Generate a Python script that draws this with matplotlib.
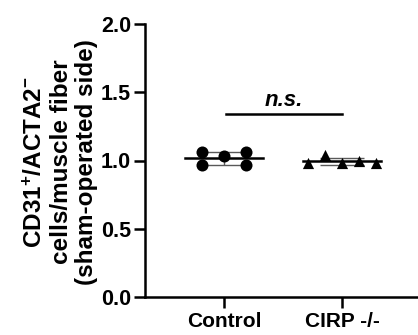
import matplotlib
matplotlib.use("Agg")
import matplotlib.pyplot as plt
import numpy as np

plt.rcParams["font.family"] = ["Liberation Sans", "DejaVu Sans"]
plt.rcParams["font.weight"] = "bold"
plt.rcParams["mathtext.fontset"] = "custom"
plt.rcParams["mathtext.rm"] = "Liberation Sans:bold"
plt.rcParams["mathtext.bf"] = "Liberation Sans:bold"
plt.rcParams["mathtext.default"] = "rm"

groups = ["Control", "CIRP -/-"]
control_vals = [1.06, 0.967, 1.03, 1.06, 0.967]
control_jitter = [-0.19, -0.19, 0.0, 0.19, 0.19]
cirp_vals = [0.98, 1.04, 0.98, 0.995, 0.98]
cirp_jitter = [-0.29, -0.14, 0.0, 0.14, 0.29]
yticks = [0.0, 0.5, 1.0, 1.5, 2.0]

W, H = 418, 335
fig = plt.figure(figsize=(W / 100, H / 100), dpi=100)
ax = fig.add_axes([145 / W, 1 - 297 / H, 1 - 145 / W, (297 - 24) / H])

lw = 1.8
for i, (vals, jit, mk) in enumerate([(control_vals, control_jitter, "o"),
                                      (cirp_vals, cirp_jitter, "^")]):
    vals = np.array(vals)
    m = vals.mean()
    sd = vals.std(ddof=1)
    # error bar (SD), grey behind the points
    ax.errorbar(i, m, yerr=sd, fmt="none", ecolor="0.35", elinewidth=1.0,
                capsize=16, capthick=1.0, zorder=2)
    ax.scatter(i + np.array(jit), vals, marker=mk, s=75 if mk == "o" else 65,
               color="black", zorder=3, linewidths=0)
    ax.plot([i - 0.33, i + 0.33], [m, m], color="black", lw=lw, zorder=4)

# significance bracket
ax.plot([0.02, 1.0], [1.34, 1.34], color="black", lw=lw, clip_on=False)
ax.text(0.51, 1.365, "n.s.", ha="center", va="bottom", fontsize=16,
        fontstyle="italic", fontweight="bold")

ax.set_xlim(-0.669, 1.644)
ax.set_ylim(0, 2.0)
ax.set_yticks(yticks)
ax.set_yticklabels([f"{t:.1f}" for t in yticks], fontsize=15.5, fontweight="bold")
ax.set_xticks(range(len(groups)))
ax.set_xticklabels(groups, fontsize=15, fontweight="bold")

for s in ["top", "right"]:
    ax.spines[s].set_visible(False)
for s in ["left", "bottom"]:
    ax.spines[s].set_linewidth(lw)
ax.tick_params(axis="both", width=lw, length=8, pad=2)
ax.tick_params(axis="x", pad=3)

fig.text(61 / W, 1 - 162 / H,
         "CD31$^{+}$/ACTA2$^{-}$\ncells/muscle fiber\n(sham-operated side)",
         rotation=90, ha="center", va="center", multialignment="center",
         fontsize=17.5, fontweight="bold", linespacing=1.15)

fig.savefig("out.png", dpi=100)
